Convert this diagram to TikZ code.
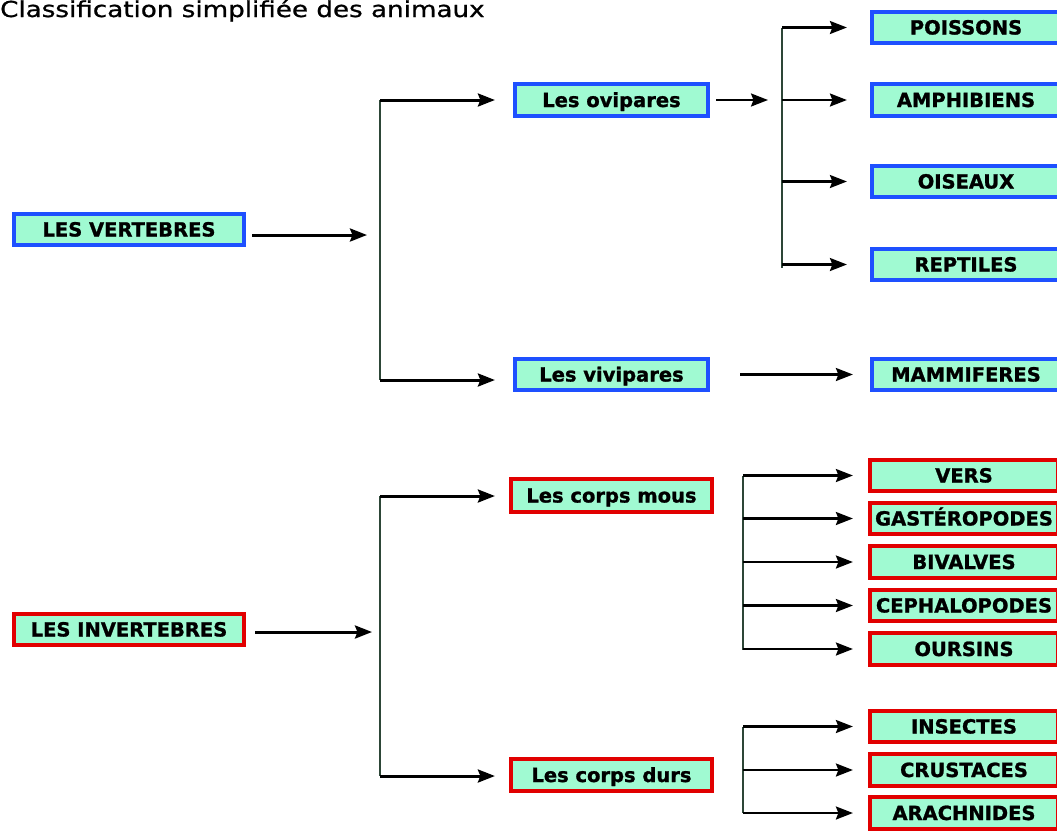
\documentclass[tikz,border=0pt]{standalone}
\usepackage{fontspec}
\usepackage{graphicx}
\usetikzlibrary{arrows.meta}
\newfontfamily\boxfont[BoldFeatures={FakeBold=1.2}]{DejaVu Sans}
\newfontfamily\titlefont[FakeBold=0.8]{DejaVu Sans}
\definecolor{mint}{RGB}{160,250,210}
\definecolor{vblue}{RGB}{30,80,255}
\definecolor{ired}{RGB}{225,0,0}
\definecolor{vline}{RGB}{45,70,55}
\begin{document}
\begin{tikzpicture}[x=1pt,y=-1pt,
  box/.style={draw, line width=4.2pt, fill=mint, inner sep=0pt, text=black,
    text height=14pt, text depth=0pt,
    font=\boxfont\bfseries\fontsize{19.5}{19.5}\selectfont},
  bluebox/.style={box, draw=vblue},
  redbox/.style={box, draw=ired},
  leaf/.style={minimum width=187.8pt, minimum height=31.3pt},
  arr/.style={-{Stealth[length=17pt,width=13pt,inset=2.5pt]}, line width=2.3pt},
  bigarr/.style={arr, line width=3pt},
  trunk/.style={line width=2.4pt, draw=vline}]
\useasboundingbox (0,0) rectangle (1057,831);
\clip (0,0) rectangle (1057,831);

% title
\node[anchor=base west, inner sep=0pt, font=\titlefont\fontsize{22}{22}\selectfont] (title) at (0,17)
  {\scalebox{1.19}[1]{Classification simplifiée des animaux}};

% left boxes
\node[bluebox, minimum width=229.8pt, minimum height=30.8pt] (vert) at (129,229.5) {LES VERTEBRES};
\node[redbox, minimum width=229.8pt, minimum height=30.8pt] (inv) at (129,629.5) {LES INVERTEBRES};

% middle boxes
\node[bluebox, minimum width=192.8pt, minimum height=31.8pt] (ovip) at (611.5,100) {Les ovipares};
\node[bluebox, minimum width=192.8pt, minimum height=30.8pt] (vivip) at (611.5,374.5) {Les vivipares};
\node[redbox, minimum width=200.8pt, minimum height=32.8pt] (mous) at (611.5,495.5) {Les corps mous};
\node[redbox, minimum width=200.8pt, minimum height=31.8pt] (durs) at (611.5,775) {Les corps durs};

% right leaves (blue)
\node[bluebox, leaf] (poiss) at (966,27.5) {POISSONS};
\node[bluebox, leaf] (amph) at (966,100) {AMPHIBIENS};
\node[bluebox, leaf] (ois) at (966,181.5) {OISEAUX};
\node[bluebox, leaf] (rept) at (966,264.5) {REPTILES};
\node[bluebox, leaf] (mamm) at (966,374.5) {MAMMIFERES};

% right leaves (red)
\node[redbox, leaf] (vers) at (964,475.5) {VERS};
\node[redbox, leaf] (gast) at (964,518.5) {GASTÉROPODES};
\node[redbox, leaf] (biv) at (964,562) {BIVALVES};
\node[redbox, leaf] (ceph) at (964,605.5) {CEPHALOPODES};
\node[redbox, leaf] (ours) at (964,649) {OURSINS};
\node[redbox, leaf] (ins) at (964,726.5) {INSECTES};
\node[redbox, leaf] (crus) at (964,770) {CRUSTACES};
\node[redbox, leaf] (arach) at (964,813) {ARACHNIDES};

% vertebres
\coordinate (va) at (367,235);
\draw[bigarr, shorten <=6pt] (vert.east |- va) -- (va);
\coordinate (vt) at (380,100);
\coordinate (vb) at (380,380);
\draw[trunk] (vt) -- (vb);
\draw[bigarr, shorten >=18.1pt] (vt) -- (ovip.west);
\draw[bigarr, shorten >=18.1pt] (vb) -- (vivip.west |- vb);

% ovipares
\coordinate (oj) at (768,100);
\draw[arr, shorten <=6pt] (ovip.east) -- (oj);
\coordinate (ot) at (782,27.5);
\coordinate (ob) at (782,268);
\draw[trunk] (ot) -- (ob);
\foreach \n in {poiss,amph,ois,rept}
  \draw[arr, shorten >=23.1pt] (\n.west -| ot) -- (\n.west);

% vivipares
\draw[arr, shorten <=30pt, shorten >=17.1pt] (vivip.east) -- (mamm.west);

% invertebres
\coordinate (ia) at (372,632);
\draw[bigarr, shorten <=9pt] (inv.east |- ia) -- (ia);
\coordinate (it) at (380,496);
\coordinate (ib) at (380,776);
\draw[trunk] (it) -- (ib);
\draw[bigarr, shorten >=14.1pt] (it) -- (mous.west |- it);
\draw[bigarr, shorten >=14.1pt] (ib) -- (durs.west |- ib);

% corps mous
\coordinate (mt) at (743,475.5);
\coordinate (mb) at (743,650);
\draw[trunk] (mt) -- (mb);
\foreach \n in {vers,gast,biv,ceph,ours}
  \draw[arr, shorten >=15.1pt] (\n.west -| mt) -- (\n.west);

% corps durs
\coordinate (dt) at (743,726.5);
\coordinate (db) at (743,813);
\draw[trunk] (dt) -- (db);
\foreach \n in {ins,crus,arach}
  \draw[arr, shorten >=15.1pt] (\n.west -| dt) -- (\n.west);
\end{tikzpicture}
\end{document}
